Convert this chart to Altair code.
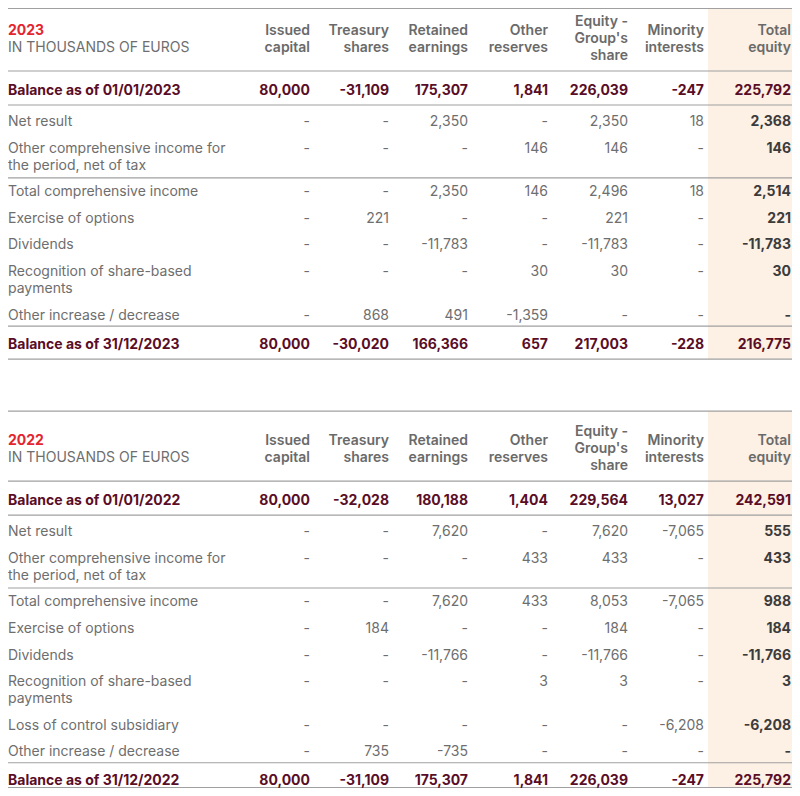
import altair as alt
import pandas as pd

# ---------------- data ----------------
COLUMN_HEADERS = ["Issued\ncapital", "Treasury\nshares", "Retained\nearnings", "Other\nreserves",
                  "Equity -\nGroup's\nshare", "Minority\ninterests", "Total\nequity"]
UNIT_LABEL = "IN THOUSANDS OF EUROS"

labels_2023 = ["Balance as of 01/01/2023", "Net result",
               "Other comprehensive income for\nthe period, net of tax",
               "Total comprehensive income", "Exercise of options", "Dividends",
               "Recognition of share-based\npayments", "Other increase / decrease",
               "Balance as of 31/12/2023"]
issued_2023 = ["80,000", "-", "-", "-", "-", "-", "-", "-", "80,000"]
treasury_2023 = ["-31,109", "-", "-", "-", "221", "-", "-", "868", "-30,020"]
retained_2023 = ["175,307", "2,350", "-", "2,350", "-", "-11,783", "-", "491", "166,366"]
reserves_2023 = ["1,841", "-", "146", "146", "-", "-", "30", "-1,359", "657"]
group_2023 = ["226,039", "2,350", "146", "2,496", "221", "-11,783", "30", "-", "217,003"]
minority_2023 = ["-247", "18", "-", "18", "-", "-", "-", "-", "-228"]
total_2023 = ["225,792", "2,368", "146", "2,514", "221", "-11,783", "30", "-", "216,775"]

labels_2022 = ["Balance as of 01/01/2022", "Net result",
               "Other comprehensive income for\nthe period, net of tax",
               "Total comprehensive income", "Exercise of options", "Dividends",
               "Recognition of share-based\npayments", "Loss of control subsidiary",
               "Other increase / decrease", "Balance as of 31/12/2022"]
issued_2022 = ["80,000", "-", "-", "-", "-", "-", "-", "-", "-", "80,000"]
treasury_2022 = ["-32,028", "-", "-", "-", "184", "-", "-", "-", "735", "-31,109"]
retained_2022 = ["180,188", "7,620", "-", "7,620", "-", "-11,766", "-", "-", "-735", "175,307"]
reserves_2022 = ["1,404", "-", "433", "433", "-", "-", "3", "-", "-", "1,841"]
group_2022 = ["229,564", "7,620", "433", "8,053", "184", "-11,766", "3", "-", "-", "226,039"]
minority_2022 = ["13,027", "-7,065", "-", "-7,065", "-", "-", "-", "-6,208", "-", "-247"]
total_2022 = ["242,591", "555", "433", "988", "184", "-11,766", "3", "-6,208", "-", "225,792"]

blocks = [
    ("2023", labels_2023, [issued_2023, treasury_2023, retained_2023, reserves_2023,
                           group_2023, minority_2023, total_2023]),
    ("2022", labels_2022, [issued_2022, treasury_2022, retained_2022, reserves_2022,
                           group_2022, minority_2022, total_2022]),
]

# ---------------- layout / style ----------------
FONT = "Inter"
FS = 14
PITCH = 26.6
LEAD = 17
COL_RIGHT = [310, 389, 468, 548, 628, 704, 791]
LABEL_X = 8
SHADE_X = 708
PL, PR, PT, PB = 8, 792, 8, 788
SEP_AFTER = 2  # separator line after the OCI row

RED = "#e3262f"
MAROON = "#5a0d26"
GRAY = "#6e6e6e"
HEAD = "#6a6a6a"
DARK = "#3b3b3b"
LINE = "#a0a0a0"
SHADE = "#fdf0e4"


def cl(v, lo, hi):
    return min(max(v, lo), hi)


texts, rules, shades = [], [], []


def add_text(x, y, t, color, align, weight):
    texts.append(dict(x=x, y=y, text=t, color=color, align=align, weight=weight))


def add_rule(y):
    rules.append(dict(x=PL, x2=PR, y=cl(y, PT + 0.5, PB - 0.5)))


T = 1.0
for year, labels, cols in blocks:
    start = T
    add_text(LABEL_X, T + 30, year, RED, "left", "bold")
    add_text(LABEL_X, T + 47, UNIT_LABEL, GRAY, "left", "normal")
    for c, h in enumerate(COLUMN_HEADERS):
        parts = h.split("\n")
        ys = [T + 30, T + 47] if len(parts) == 2 else [T + 21, T + 38, T + 55]
        for p, yy in zip(parts, ys):
            add_text(COL_RIGHT[c], yy, p, HEAD, "right", "600")
    add_rule(T)
    add_rule(T + 70)
    # opening balance
    yb = T + 90
    add_text(LABEL_X, yb, labels[0], MAROON, "left", "bold")
    for c in range(7):
        add_text(COL_RIGHT[c], yb, cols[c][0], MAROON, "right", "bold")
    add_rule(T + 104)
    y = T + 121
    last = y
    n = len(labels)
    for i in range(1, n - 1):
        parts = labels[i].split("\n")
        for k, p in enumerate(parts):
            add_text(LABEL_X, y + k * LEAD, p, GRAY, "left", "normal")
        for c in range(7):
            if c == 6:
                add_text(COL_RIGHT[c], y, cols[c][i], DARK, "right", "bold")
            else:
                add_text(COL_RIGHT[c], y, cols[c][i], GRAY, "right", "normal")
        last = y + (len(parts) - 1) * LEAD
        if i == SEP_AFTER:
            add_rule(last + PITCH / 2 - 1)
        y = last + PITCH
    close_line = last + 10.5
    add_rule(close_line)
    yc = close_line + 18.5
    add_text(LABEL_X, yc, labels[-1], MAROON, "left", "bold")
    for c in range(7):
        add_text(COL_RIGHT[c], yc, cols[c][-1], MAROON, "right", "bold")
    bottom = close_line + 33
    add_rule(bottom)
    shades.append(dict(x=SHADE_X, x2=PR, y=cl(start, PT, PB), y2=cl(bottom, PT, PB)))
    T = bottom + 52

tdf = pd.DataFrame(texts)
rdf = pd.DataFrame(rules)
sdf = pd.DataFrame(shades)

XS = alt.Scale(domain=[PL, PR], range=[0, PR - PL])
YS = alt.Scale(domain=[PT, PB], reverse=True)

shade_layer = alt.Chart(sdf).mark_rect(color=SHADE).encode(
    x=alt.X("x:Q", scale=XS, axis=None), x2="x2:Q",
    y=alt.Y("y:Q", scale=YS, axis=None), y2="y2:Q")

rule_layer = alt.Chart(rdf).mark_rule(color=LINE, strokeWidth=1.1).encode(
    x=alt.X("x:Q", scale=XS, axis=None), x2="x2:Q",
    y=alt.Y("y:Q", scale=YS, axis=None))

layers = [shade_layer, rule_layer]
for align in ["left", "right"]:
    for weight in ["normal", "600", "bold"]:
        sub = tdf[(tdf["align"] == align) & (tdf["weight"] == weight)]
        if len(sub) == 0:
            continue
        fw = int(weight) if weight.isdigit() else weight
        layers.append(
            alt.Chart(sub).mark_text(align=align, baseline="middle", font=FONT,
                                     fontSize=FS, fontWeight=fw).encode(
                x=alt.X("x:Q", scale=XS, axis=None),
                y=alt.Y("y:Q", scale=YS, axis=None),
                text="text:N",
                color=alt.Color("color:N", scale=None)))

chart = alt.layer(*layers).properties(
    width=PR - PL, height=PB - PT, padding=0, background="white",
    autosize=alt.AutoSizeParams(type="none"),
).configure_view(stroke=None, strokeWidth=0)

chart.save("out.html", embed_options={"renderer": "svg", "actions": False})
